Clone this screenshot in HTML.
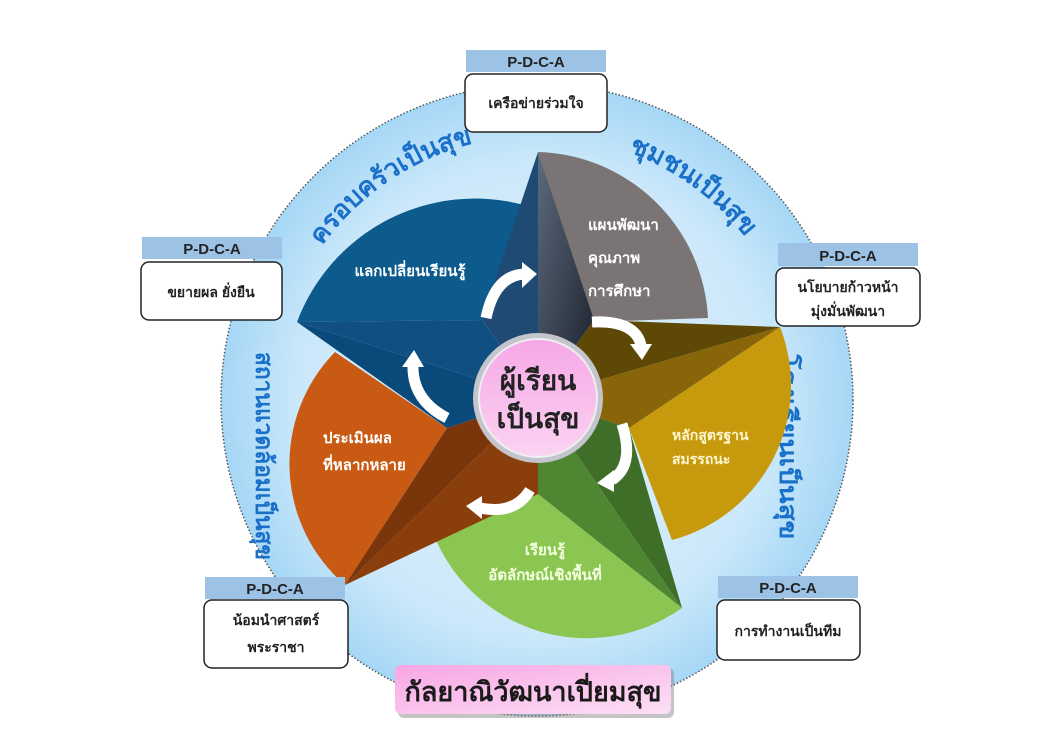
<!DOCTYPE html>
<html><head><meta charset="utf-8">
<style>
html,body{margin:0;padding:0;background:#fff;}
svg{display:block;}
text{font-family:"Liberation Sans","Noto Sans CJK SC",sans-serif;}
</style></head><body>
<svg width="1064" height="752" viewBox="0 0 1064 752" xmlns="http://www.w3.org/2000/svg">
<defs>
<radialGradient id="bg" cx="50%" cy="50%" r="50%">
<stop offset="0" stop-color="#e2f2fc"/><stop offset="0.75" stop-color="#cbe8fa"/><stop offset="1" stop-color="#a5d7f6"/>
</radialGradient>
<linearGradient id="pink" x1="0" y1="0" x2="0" y2="1">
<stop offset="0" stop-color="#f6a8e6"/><stop offset="1" stop-color="#fbd3f2"/>
</linearGradient>
<linearGradient id="pink2" x1="0" y1="0" x2="1" y2="1">
<stop offset="0" stop-color="#f7a6e3"/><stop offset="1" stop-color="#fde0f5"/>
</linearGradient>
<linearGradient id="navy" x1="0" y1="0" x2="1" y2="1">
<stop offset="0" stop-color="#5c6a7c"/><stop offset="1" stop-color="#1a1f2a"/>
</linearGradient>
<path id="arc" d="M 272 400 A 265 265 0 1 1 272 401"/>
</defs>
<circle cx="537" cy="400" r="316" fill="url(#bg)" stroke="#555" stroke-width="1.5" stroke-dasharray="1.5 2"/>

<text font-size="26" font-weight="bold" fill="#1a70c8"><textPath href="#arc" startOffset="15.5%" text-anchor="middle">ครอบครัวเป็นสุข</textPath></text>
<text font-size="26" font-weight="bold" fill="#1a70c8"><textPath href="#arc" startOffset="35%" text-anchor="middle">ชุมชนเป็นสุข</textPath></text>
<text font-size="24" font-weight="bold" fill="#1a70c8" transform="translate(780,447) rotate(90)" text-anchor="middle" textLength="185" lengthAdjust="spacingAndGlyphs">โรงเรียนเป็นสุข</text>
<text font-size="24" font-weight="bold" fill="#1a70c8" transform="translate(256,456) rotate(90)" text-anchor="middle" textLength="208" lengthAdjust="spacingAndGlyphs">สถานแวดล้อมเป็นสุข</text>

<!-- sectors -->
<path d="M538,152 A175 175 0 0 1 708,318 L594,322 Z" fill="#7a7574"/>
<path d="M780,327 A160 160 0 0 1 672,540 L629,428 Z" fill="#c79a0e"/>
<path d="M682,608 A165 165 0 0 1 428,518 L538,494 Z" fill="#8cc652"/>
<path d="M345,585 A160 160 0 0 1 335,352 L447,428 Z" fill="#c85a14"/>
<path d="M297,322 A190 190 0 0 1 524,205 L482,320 Z" fill="#0d5a8c"/>

<!-- arms -->
<polygon points="538,152 482,320 538,398" fill="#1f4a73"/>
<polygon points="538,152 538,398 594,320" fill="url(#navy)"/>
<polygon points="780,327 594,320 538,398" fill="#5e4806"/>
<polygon points="780,327 538,398 629,428" fill="#876508"/>
<polygon points="682,608 629,428 538,398" fill="#3e6e28"/>
<polygon points="682,608 538,398 538,494" fill="#4f8632"/>
<polygon points="345,585 538,494 538,398" fill="#8a3e0c"/>
<polygon points="345,585 538,398 447,428" fill="#7a350a"/>
<polygon points="297,322 447,428 538,398" fill="#0a4a7a"/>
<polygon points="297,322 538,398 482,320" fill="#104f82"/>

<!-- arrows -->
<g fill="none" stroke="#fff" stroke-width="11" stroke-linecap="butt">
<path d="M486,318 Q495,275 525,274"/>
<path d="M592,322 Q635,320 641,345"/>
<path d="M622,424 Q635,465 612,480"/>
<path d="M530,490 Q515,515 480,508"/>
<path d="M447,418 Q412,400 413,365"/>
</g>
<g fill="#fff">
<polygon points="522,262 537,274 522,288"/>
<polygon points="630,344 652,344 642,360"/>
<polygon points="614,470 614,492 597,483"/>
<polygon points="482,496 482,519 466,506"/>
<polygon points="402,367 424,367 414,350"/>
</g>

<!-- center -->
<circle cx="538" cy="398" r="65" fill="#c4c4cc"/>
<circle cx="538" cy="398" r="59" fill="url(#pink)" stroke="#eeeef2" stroke-width="2"/>
<text x="538" y="390" font-size="28" font-weight="bold" fill="#222" text-anchor="middle">ผู้เรียน</text>
<text x="538" y="428" font-size="28" font-weight="bold" fill="#222" text-anchor="middle">เป็นสุข</text>

<g font-size="15" font-weight="bold" fill="#fff">
<text x="410" y="276" text-anchor="middle">แลกเปลี่ยนเรียนรู้</text>
<text x="588" y="230">แผนพัฒนา</text>
<text x="588" y="263">คุณภาพ</text>
<text x="588" y="296">การศึกษา</text>
<text x="672" y="440" fill="#fff6d0" font-size="14">หลักสูตรฐาน</text>
<text x="672" y="464" fill="#fff6d0" font-size="14">สมรรถนะ</text>
<text x="545" y="555" text-anchor="middle" fill="#f4ffe0">เรียนรู้</text>
<text x="545" y="580" text-anchor="middle" fill="#f4ffe0">อัตลักษณ์เชิงพื้นที่</text>
<text x="323" y="443">ประเมินผล</text>
<text x="323" y="470">ที่หลากหลาย</text>
</g>

<!-- boxes -->
<g font-size="14" font-weight="bold" fill="#222" text-anchor="middle">
<rect x="466" y="50" width="140" height="22" fill="#9cc2e6"/>
<text x="536" y="67" font-size="15">P-D-C-A</text>
<rect x="465" y="74" width="142" height="58" rx="8" fill="#fff" stroke="#222" stroke-width="1.5"/>
<text x="536" y="108">เครือข่ายร่วมใจ</text>

<rect x="142" y="237" width="140" height="22" fill="#9cc2e6"/>
<text x="212" y="254" font-size="15">P-D-C-A</text>
<rect x="141" y="262" width="141" height="58" rx="8" fill="#fff" stroke="#222" stroke-width="1.5"/>
<text x="211" y="297">ขยายผล ยั่งยืน</text>

<rect x="778" y="243" width="140" height="23" fill="#9cc2e6"/>
<text x="848" y="261" font-size="15">P-D-C-A</text>
<rect x="776" y="268" width="144" height="58" rx="8" fill="#fff" stroke="#222" stroke-width="1.5"/>
<text x="848" y="292">นโยบายก้าวหน้า</text>
<text x="848" y="316">มุ่งมั่นพัฒนา</text>

<rect x="205" y="577" width="140" height="22" fill="#9cc2e6"/>
<text x="275" y="594" font-size="15">P-D-C-A</text>
<rect x="204" y="600" width="144" height="68" rx="8" fill="#fff" stroke="#222" stroke-width="1.5"/>
<text x="276" y="625">น้อมนำศาสตร์</text>
<text x="276" y="652">พระราชา</text>

<rect x="718" y="576" width="140" height="22" fill="#9cc2e6"/>
<text x="788" y="593" font-size="15">P-D-C-A</text>
<rect x="717" y="600" width="143" height="60" rx="8" fill="#fff" stroke="#222" stroke-width="1.5"/>
<text x="788" y="636">การทำงานเป็นทีม</text>
</g>

<rect x="398" y="668" width="276" height="50" rx="6" fill="#8a8a8a" opacity="0.5"/>
<rect x="395" y="665" width="276" height="49" rx="6" fill="url(#pink2)"/>
<text x="533" y="701" font-size="27" font-weight="bold" fill="#1a1a1a" text-anchor="middle">กัลยาณิวัฒนาเปี่ยมสุข</text>
</svg>
</body></html>
